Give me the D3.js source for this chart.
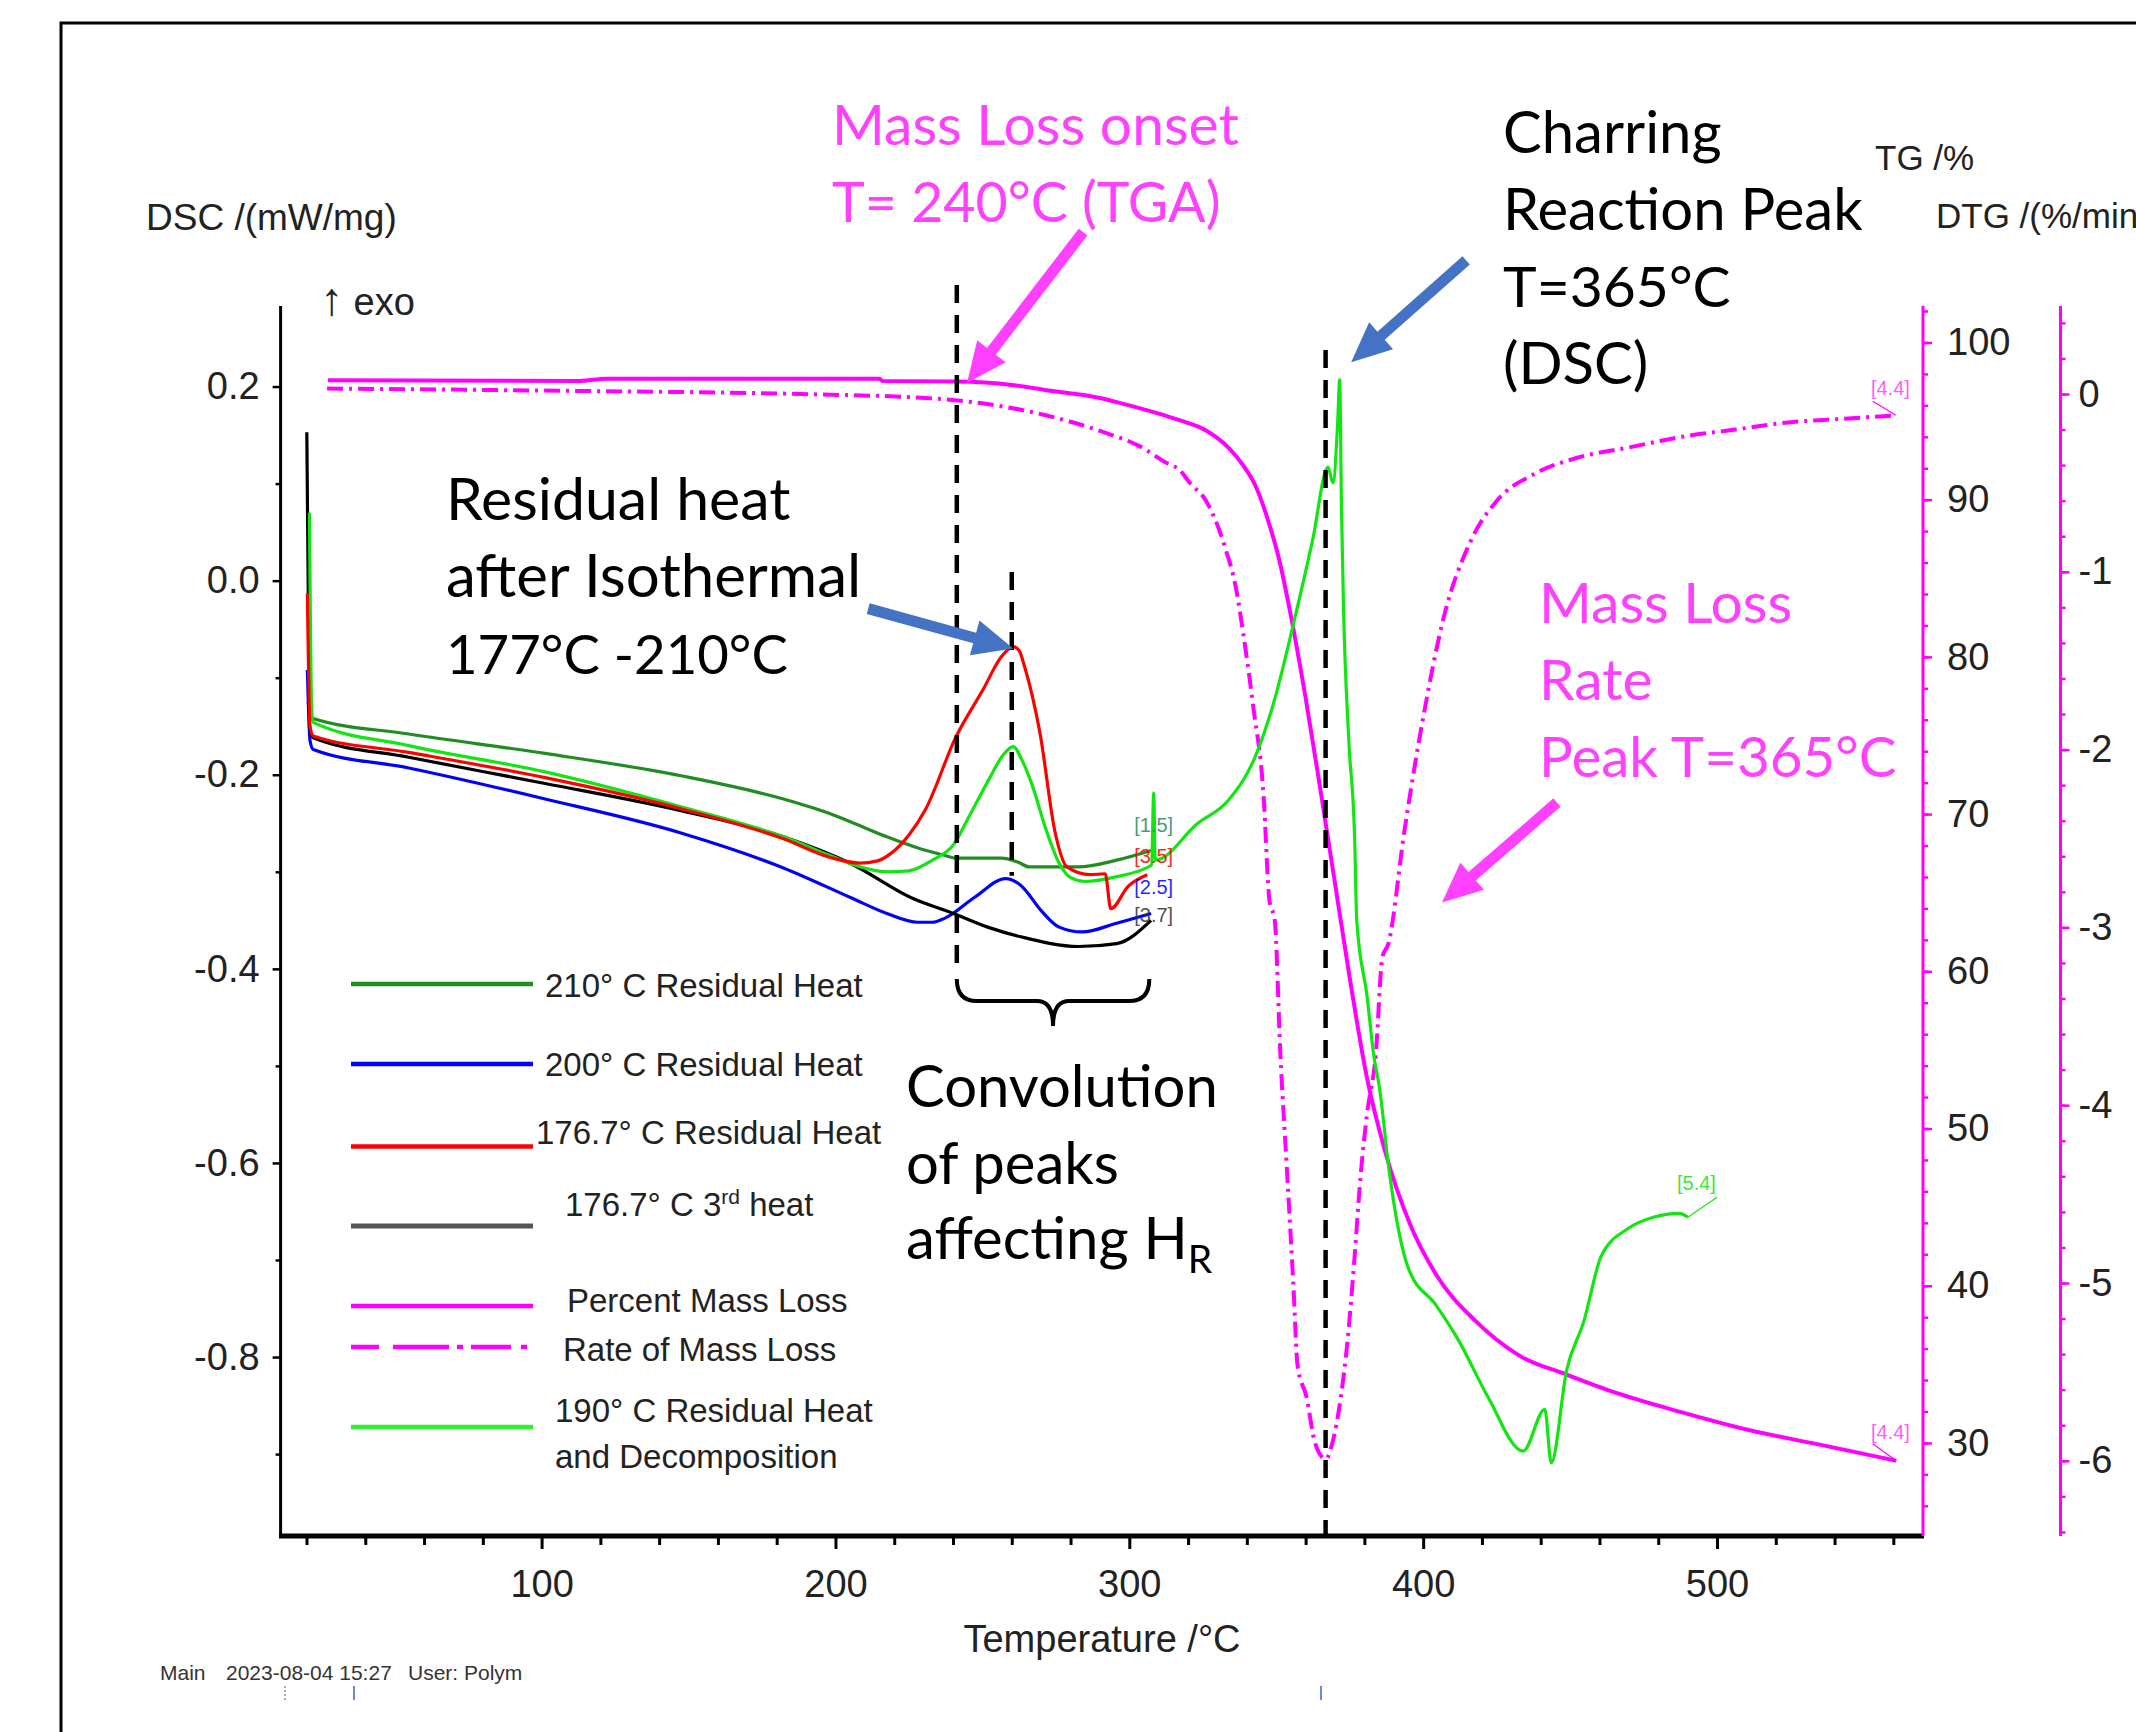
<!DOCTYPE html>
<html>
<head>
<meta charset="utf-8">
<script src="https://cdn.jsdelivr.net/npm/d3@7"></script>
<style>
  body { margin: 0; background: #fff; }
  text { font-family: "Liberation Sans", Arial, sans-serif; }
  .note { font-family: Lato, "Open Sans", sans-serif; }
</style>
</head>
<body>
<div id="chart"></div>
<script>
// size of the picture
var w = 2136;
var h = 1732;

// tick values of the four axes
var tempTicks = [100, 200, 300, 400, 500];
var dscTicks = [0.2, 0.0, -0.2, -0.4, -0.6, -0.8];
var tgTicks = [30, 40, 50, 60, 70, 80, 90, 100];
var dtgTicks = [0, -1, -2, -3, -4, -5, -6];

// DSC curves, [temperature, mW/mg]
var dsc210 = [[20.5,-0.125],[22.3,-0.142],[54.8,-0.158],[101.2,-0.178],[147.4,-0.201],[182.3,-0.225],[198,-0.240],[205.5,-0.249],[217.5,-0.264],[228.6,-0.276],[237.1,-0.283],[241,-0.286],[256.6,-0.286],[262,-0.290],[266,-0.295],[282.7,-0.295],[295.7,-0.288],[307.4,-0.278]];
var dsc200 = [[20.3,-0.092],[21.2,-0.165],[22.3,-0.174],[54.8,-0.193],[101.2,-0.225],[147.4,-0.260],[182.3,-0.296],[205.5,-0.327],[217.5,-0.343],[228,-0.352],[233,-0.352],[237.1,-0.348],[247.5,-0.326],[257.9,-0.307],[263.1,-0.314],[270,-0.340],[276.1,-0.357],[284,-0.362],[295.7,-0.353],[307.4,-0.343]];
var dsc177 = [[20.3,-0.013],[21.2,-0.150],[22.3,-0.160],[54.8,-0.177],[101.2,-0.203],[147.4,-0.235],[182.3,-0.266],[198,-0.285],[208.4,-0.291],[214,-0.289],[218.9,-0.281],[225,-0.262],[230.6,-0.236],[241,-0.161],[250.1,-0.113],[256.6,-0.078],[260.5,-0.068],[262.5,-0.072],[264.4,-0.089],[269.6,-0.157],[274.8,-0.260],[278.8,-0.295],[286.6,-0.303],[291.8,-0.302],[293.7,-0.338],[299.6,-0.315],[306.1,-0.303]];
var dsc3rd = [[20.1,0.153],[21.0,-0.150],[22.3,-0.162],[54.8,-0.182],[101.2,-0.209],[147.4,-0.237],[182.3,-0.264],[205.5,-0.292],[226,-0.327],[240.2,-0.343],[251.8,-0.357],[263.1,-0.367],[282.7,-0.377],[295.7,-0.374],[307.4,-0.350]];
var dsc190 = [[21.0,0.070],[21.8,-0.137],[22.3,-0.146],[54.8,-0.170],[101.2,-0.197],[147.4,-0.233],[182.3,-0.264],[198,-0.283],[205.5,-0.292],[217.5,-0.300],[225,-0.299],[233,-0.288],[240.2,-0.272],[246,-0.240],[252.2,-0.205],[257,-0.180],[260.5,-0.171],[263.5,-0.185],[267.1,-0.212],[271.5,-0.255],[276.1,-0.291],[280,-0.306],[285,-0.310],[295.7,-0.305],[307.6,-0.293],[308.3,-0.219],[308.8,-0.288],[323.3,-0.250],[333.8,-0.226],[342.9,-0.181],[349.4,-0.123],[355.9,-0.044],[362.4,0.042],[367.6,0.117],[369.3,0.101],[370.9,0.162],[371.6,0.207],[372.2,0.076],[372.9,-0.028],[374.7,-0.165],[376.7,-0.267],[377.4,-0.350],[380.9,-0.428],[383.1,-0.487],[385.3,-0.526],[388.3,-0.605],[394.9,-0.708],[404.5,-0.747],[411.9,-0.782],[422.2,-0.842],[434,-0.897],[441.4,-0.854],[443.6,-0.909],[448.8,-0.814],[454.7,-0.763],[460.6,-0.696],[469.5,-0.668],[478.3,-0.656],[487.2,-0.652],[490.1,-0.656]];

// TG curve, [temperature, %]
var tgData = [[27.3,97.6],[113,97.55],[122,97.7],[215,97.7],[216,97.55],[241,97.52],[260,97.3],[271.2,96.98],[290,96.47],[297.3,96.13],[316.8,95.07],[326.1,94.4],[333.8,93.3],[338.7,92.2],[342.9,90.9],[347.7,88.4],[351,86.2],[355,82.6],[360,77.4],[365,71.6],[370,65.6],[375,59.6],[380.9,53.2],[386.8,48.71],[395.7,43.84],[404.5,40.68],[417.8,37.76],[432.6,35.57],[448.8,34.35],[466.5,33.13],[488.7,31.91],[510.8,30.82],[532.9,29.97],[561,28.87]];

// DTG curve, [temperature, %/min]
var dtgData = [[27,0.031],[113,0.017],[188,0.0],[232.2,-0.024],[245.2,-0.043],[271.2,-0.118],[290.8,-0.212],[303.8,-0.296],[312.9,-0.39],[317,-0.425],[320.7,-0.502],[326.1,-0.60],[332.5,-0.859],[336.4,-1.10],[338.8,-1.35],[342.2,-1.76],[345.7,-2.26],[347.7,-2.85],[349.5,-2.96],[351.4,-3.71],[353.6,-4.35],[355.8,-5.0],[357.3,-5.47],[360.3,-5.64],[363.2,-5.90],[366.9,-5.99],[369.1,-5.90],[372,-5.64],[374.3,-5.32],[376.5,-4.89],[378.7,-4.40],[380.9,-4.05],[383.9,-3.71],[386.1,-3.17],[388.2,-3.09],[393.6,-2.46],[399.9,-1.83],[407.1,-1.25],[416.1,-0.83],[425.1,-0.60],[437.8,-0.45],[452.1,-0.36],[470.2,-0.30],[488.2,-0.24],[506.2,-0.20],[524.2,-0.16],[542.2,-0.14],[560.9,-0.12]];

// legend entries
var legendNames = ["210° C Residual Heat", "200° C Residual Heat", "176.7° C Residual Heat", "176.7° C 3", "Percent Mass Loss", "Rate of Mass Loss", "190° C Residual Heat"];
var curveTags = ["[1.5]", "[2.5]", "[3.5]", "[3.7]", "[5.4]", "[4.4]"];

var magenta = "#ff00ff";
var noteMagenta = "#ff40ff";
var arrowBlue = "#4472c4";

var svg = d3.select("#chart").append("svg")
  .attr("width", w)
  .attr("height", h)
  .style("display", "block");

svg.append("rect").attr("width", w).attr("height", h).attr("fill", "#fff");

// outer frame
svg.append("rect")
  .attr("x", 61).attr("y", 23)
  .attr("width", 2300).attr("height", 2000)
  .attr("fill", "none").attr("stroke", "#000").attr("stroke-width", 3);

// scales
var x = d3.scaleLinear().domain([11.18, 570.1]).range([280.6, 1923]);
var yDsc = d3.scaleLinear().domain([-0.9844, 0.283]).range([1536, 306]);
var yTg = d3.scaleLinear().domain([24.08, 102.32]).range([1536, 306]);
var yDtg = d3.scaleLinear().domain([-6.423, 0.495]).range([1536, 306]);

function fmt1(d) { return d.toFixed(1); }
var tickFont = "'Liberation Sans', Arial, sans-serif";

// x axis: minor ticks then major ticks
var minorT = d3.range(20, 561, 20).filter(function(d) { return d % 100 !== 0; });
var gxMinor = svg.append("g")
  .attr("transform", "translate(0,1536)")
  .call(d3.axisBottom(x).tickValues(minorT).tickSize(9).tickSizeOuter(0).tickFormat(""));
var gx = svg.append("g")
  .attr("transform", "translate(0,1536)")
  .call(d3.axisBottom(x).tickValues(tempTicks).tickSize(13).tickSizeOuter(0).tickPadding(21));
[gxMinor, gx].forEach(function(g) {
  g.select(".domain").remove();
  g.selectAll("line").attr("stroke", "#000").attr("stroke-width", 3);
});
gx.selectAll("text").attr("font-size", 38).attr("fill", "#222").style("font-family", tickFont);

// DSC axis
var gyMinor = svg.append("g")
  .attr("transform", "translate(280.6,0)")
  .call(d3.axisLeft(yDsc).tickValues([0.1, -0.1, -0.3, -0.5, -0.7, -0.9]).tickSize(5).tickSizeOuter(0).tickFormat(""));
var gy = svg.append("g")
  .attr("transform", "translate(280.6,0)")
  .call(d3.axisLeft(yDsc).tickValues(dscTicks).tickSize(8).tickSizeOuter(0).tickPadding(13).tickFormat(fmt1));
[gyMinor, gy].forEach(function(g) {
  g.select(".domain").remove();
  g.selectAll("line").attr("stroke", "#000").attr("stroke-width", 2.5);
});
gy.selectAll("text").attr("font-size", 38).attr("fill", "#222").style("font-family", tickFont);

// TG axis
var gtMinor = svg.append("g")
  .attr("transform", "translate(1923,0)")
  .call(d3.axisRight(yTg).tickValues(d3.range(26, 103, 2)).tickSize(5).tickSizeOuter(0).tickFormat(""));
var gt = svg.append("g")
  .attr("transform", "translate(1923,0)")
  .call(d3.axisRight(yTg).tickValues(tgTicks).tickSize(9).tickSizeOuter(0).tickPadding(15));
[gtMinor, gt].forEach(function(g) {
  g.select(".domain").remove();
  g.selectAll("line").attr("stroke", magenta).attr("stroke-width", 2.5);
});
gt.selectAll("text").attr("font-size", 38).attr("fill", "#222").style("font-family", tickFont);

// DTG axis
var gdMinor = svg.append("g")
  .attr("transform", "translate(2060.5,0)")
  .call(d3.axisRight(yDtg).tickValues(d3.range(-32, 3, 1).map(function(d) { return d / 5; })).tickSize(5).tickSizeOuter(0).tickFormat(""));
var gd = svg.append("g")
  .attr("transform", "translate(2060.5,0)")
  .call(d3.axisRight(yDtg).tickValues(dtgTicks).tickSize(9).tickSizeOuter(0).tickPadding(9).tickFormat(function(d) { return d === 0 ? "0" : String(d).replace("\u2212", "-"); }));
[gdMinor, gd].forEach(function(g) {
  g.select(".domain").remove();
  g.selectAll("line").attr("stroke", magenta).attr("stroke-width", 2.5);
});
gd.selectAll("text").attr("font-size", 38).attr("fill", "#222").style("font-family", tickFont);

// axis lines
svg.append("line").attr("x1", 280.6).attr("x2", 280.6).attr("y1", 306).attr("y2", 1538).attr("stroke", "#000").attr("stroke-width", 3);
svg.append("line").attr("x1", 279).attr("x2", 1924).attr("y1", 1536).attr("y2", 1536).attr("stroke", "#000").attr("stroke-width", 5);
svg.append("line").attr("x1", 1923).attr("x2", 1923).attr("y1", 306).attr("y2", 1536).attr("stroke", magenta).attr("stroke-width", 3);
svg.append("line").attr("x1", 2060.5).attr("x2", 2060.5).attr("y1", 306).attr("y2", 1536).attr("stroke", magenta).attr("stroke-width", 3);

// axis titles
svg.append("text").attr("x", 146).attr("y", 230).attr("font-size", 37).attr("fill", "#222").text("DSC /(mW/mg)");
var exo = svg.append("text").attr("x", 320).attr("y", 315).attr("font-size", 38).attr("fill", "#222");
exo.append("tspan").attr("font-size", 46).text("\u2191");
exo.append("tspan").text(" exo");
svg.append("text").attr("x", 1875).attr("y", 170).attr("font-size", 35).attr("fill", "#222").text("TG /%");
svg.append("text").attr("x", 1936).attr("y", 228).attr("font-size", 35).attr("fill", "#222").text("DTG /(%/min)");
svg.append("text").attr("x", 1102).attr("y", 1652).attr("font-size", 38).attr("fill", "#222").attr("text-anchor", "middle").text("Temperature /\u00b0C");

// footer
svg.append("text").attr("x", 160).attr("y", 1680).attr("font-size", 21).attr("fill", "#333").text("Main");
svg.append("text").attr("x", 226).attr("y", 1680).attr("font-size", 21).attr("fill", "#333").text("2023-08-04 15:27");
svg.append("text").attr("x", 408).attr("y", 1680).attr("font-size", 21).attr("fill", "#333").text("User: Polym");
svg.append("line").attr("x1", 285).attr("x2", 285).attr("y1", 1686).attr("y2", 1700).attr("stroke", "#555").attr("stroke-width", 1).attr("stroke-dasharray", "2,2");
svg.append("line").attr("x1", 354).attr("x2", 354).attr("y1", 1686).attr("y2", 1700).attr("stroke", "#3a5fcd").attr("stroke-width", 1.5);
svg.append("line").attr("x1", 1321).attr("x2", 1321).attr("y1", 1686).attr("y2", 1700).attr("stroke", "#3a5fcd").attr("stroke-width", 1.5);

// line generators
var dscLine = d3.line().curve(d3.curveMonotoneX).x(function(d) { return x(d[0]); }).y(function(d) { return yDsc(d[1]); });
var tgLine = d3.line().curve(d3.curveMonotoneX).x(function(d) { return x(d[0]); }).y(function(d) { return yTg(d[1]); });
var dtgLine = d3.line().curve(d3.curveMonotoneX).x(function(d) { return x(d[0]); }).y(function(d) { return yDtg(d[1]); });

// TG and DTG
svg.append("path").datum(dtgData)
  .attr("fill", "none").attr("stroke", magenta).attr("stroke-width", 4)
  .attr("stroke-dasharray", "16,6,3,6")
  .attr("d", dtgLine);
svg.append("path").datum(tgData)
  .attr("fill", "none").attr("stroke", magenta).attr("stroke-width", 4)
  .attr("d", tgLine);

// DSC curves
var dscSeries = [
  { data: dsc210, color: "#218c21" },
  { data: dsc200, color: "#0000ff" },
  { data: dsc3rd, color: "#000000" },
  { data: dsc190, color: "#12e612" },
  { data: dsc177, color: "#ff0000" }
];
dscSeries.forEach(function(s) {
  svg.append("path").datum(s.data)
    .attr("fill", "none").attr("stroke", s.color).attr("stroke-width", 3.2)
    .attr("stroke-linejoin", "round")
    .attr("d", dscLine);
});

// curve tags
function tag(t, px, py, color) {
  svg.append("text").attr("x", px).attr("y", py).attr("font-size", 20)
    .attr("text-anchor", "middle").attr("fill", color).attr("opacity", 0.85).text(t);
}
tag(curveTags[0], x(308.3), yDsc(-0.278) - 18, "#2a8a6a");
tag(curveTags[2], x(308.3), yDsc(-0.303) - 12, "#ff0000");
tag(curveTags[1], x(308.3), yDsc(-0.343) - 20, "#0000ff");
tag(curveTags[3], x(308.3), yDsc(-0.350) + 2, "#333");
tag(curveTags[4], x(493), yDsc(-0.656) - 27, "#12e612");
tag(curveTags[5], x(559), yDtg(-0.12) - 20, noteMagenta);
tag(curveTags[5], x(559), yTg(28.87) - 22, noteMagenta);
svg.append("line").attr("x1", x(490.1)).attr("y1", yDsc(-0.656)).attr("x2", x(500)).attr("y2", yDsc(-0.656) - 20).attr("stroke", "#12e612").attr("stroke-width", 1.2);
svg.append("line").attr("x1", x(561)).attr("y1", yTg(28.87)).attr("x2", x(553)).attr("y2", yTg(28.87) - 17).attr("stroke", magenta).attr("stroke-width", 1.2);
svg.append("line").attr("x1", x(560.9)).attr("y1", yDtg(-0.12)).attr("x2", x(553)).attr("y2", yDtg(-0.12) - 14).attr("stroke", magenta).attr("stroke-width", 1.2);

// dashed marker lines [temperature, top DSC, bottom DSC]
var markers = [[241.3, 0.3046, -0.402], [260.0, 0.009, -0.304], [366.8, 0.2376, -0.984]];
markers.forEach(function(m) {
  svg.append("line")
    .attr("x1", x(m[0])).attr("x2", x(m[0]))
    .attr("y1", yDsc(m[1])).attr("y2", yDsc(m[2]))
    .attr("stroke", "#000").attr("stroke-width", 4.5)
    .attr("stroke-dasharray", "18,12");
});

// brace under the first marker
var bx0 = x(241.3), bx1 = x(306.8), bm = (bx0 + bx1) / 2, by = 1001;
svg.append("path")
  .attr("d", "M" + bx0 + ",979 Q" + bx0 + "," + by + " " + (bx0 + 20) + "," + by +
    " L" + (bm - 16) + "," + by + " Q" + bm + "," + by + " " + bm + ",1026" +
    " Q" + bm + "," + by + " " + (bm + 16) + "," + by +
    " L" + (bx1 - 20) + "," + by + " Q" + bx1 + "," + by + " " + bx1 + ",979")
  .attr("fill", "none").attr("stroke", "#000").attr("stroke-width", 4);

// block arrows
function arrow(tipX, tipY, dx, dy, color) {
  var x1 = tipX + dx, y1 = tipY + dy;
  var L = Math.sqrt(dx * dx + dy * dy), ux = -dx / L, uy = -dy / L, px = -uy, py = ux;
  var sw = 11, hw = 36, hl = 40;
  var bx = tipX - ux * hl, byy = tipY - uy * hl;
  var pts = [[x1 + px * sw / 2, y1 + py * sw / 2], [bx + px * sw / 2, byy + py * sw / 2], [bx + px * hw / 2, byy + py * hw / 2],
    [tipX, tipY], [bx - px * hw / 2, byy - py * hw / 2], [bx - px * sw / 2, byy - py * sw / 2], [x1 - px * sw / 2, y1 - py * sw / 2]];
  svg.append("polygon").attr("points", pts.map(function(p) { return p.join(","); }).join(" ")).attr("fill", color);
}
arrow(x(244.8), yTg(97.42), 116, -151, noteMagenta);
arrow(x(375.5), yDsc(0.225), 115, -102, arrowBlue);
arrow(x(260.5), yDsc(-0.070), -145, -40, arrowBlue);
arrow(x(406.4), yDtg(-2.86), 115, -100, noteMagenta);

// annotation text blocks, one font size per line
function note(lines, px, py, sizes, color) {
  lines.forEach(function(t, i) {
    svg.append("text").attr("class", "note").attr("x", px).attr("y", py + i * 77)
      .attr("font-size", sizes[i]).attr("fill", color).text(t);
  });
}
note(["Mass Loss onset", "T= 240\u00b0C (TGA)"], 832, 145, [57, 55.5], noteMagenta);
note(["Charring", "Reaction Peak", "T=365\u00b0C", "(DSC)"], 1503, 153, [58, 58, 57, 58], "#000");
note(["Residual heat", "after Isothermal", "177\u00b0C -210\u00b0C"], 446, 520, [59, 60, 54.5], "#000");
note(["Mass Loss", "Rate", "Peak T=365\u00b0C"], 1539, 623, [57, 57, 56.5], noteMagenta);
note(["Convolution", "of peaks"], 906, 1107, [58, 58], "#000");
var aff = svg.append("text").attr("class", "note").attr("x", 906).attr("y", 1259).attr("font-size", 58).attr("fill", "#000").text("affecting H");
aff.append("tspan").attr("dy", 14).attr("font-size", 39).text("R");

// legend
var legY = [984, 1064, 1146.5, 1226, 1306, 1347, 1427];
var legColor = ["#218c21", "#0000ff", "#ff0000", "#555555", magenta, magenta, "#33ee33"];
var legTextX = [545, 545, 536, 565, 567, 563, 555];
var legTextY = [997, 1076, 1144, 1216, 1312, 1361, 1422];
legendNames.forEach(function(n, i) {
  var ln = svg.append("line").attr("x1", 351).attr("x2", 533).attr("y1", legY[i]).attr("y2", legY[i])
    .attr("stroke", legColor[i]).attr("stroke-width", i === 3 ? 5 : 4.5);
  if (i === 5) ln.attr("stroke-dasharray", "28,14,56,8,6,8,40,10,6,10");
  var t = svg.append("text").attr("x", legTextX[i]).attr("y", legTextY[i]).attr("font-size", 33).attr("fill", "#222").text(n);
  if (i === 3) {
    t.append("tspan").attr("dy", -12).attr("font-size", 21).text("rd");
    t.append("tspan").attr("dy", 12).text(" heat");
  }
});
svg.append("text").attr("x", 555).attr("y", 1468).attr("font-size", 33).attr("fill", "#222").text("and Decomposition");
</script>
</body>
</html>
